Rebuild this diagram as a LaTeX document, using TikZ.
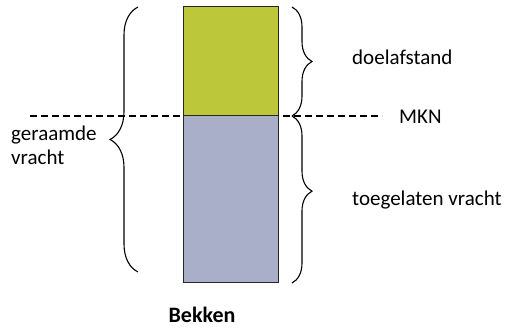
\documentclass[tikz,border=0pt]{standalone}
\usepackage{fontspec}
\setmainfont{Carlito}
\usetikzlibrary{decorations.pathreplacing}
\definecolor{topgreen}{HTML}{BCC83A}
\definecolor{botblue}{HTML}{AAAFC9}
\tikzset{
  lbl/.style={font=\fontsize{21}{24}\selectfont, inner sep=0pt, align=left},
  bracedraw/.style={draw=black, line width=1.1pt, decorate, decoration={brace, amplitude=#1}},
  dashline/.style={draw=black, line width=1.1pt, dash pattern=on 7pt off 4pt},
  boxpart/.style={draw=black!85, line width=1pt}
}
\begin{document}
\begin{tikzpicture}[x=1pt,y=-1pt]
\useasboundingbox (0,0) rectangle (507,328);
% dashed MKN line
\draw[dashline] (30,116) -- (382,116);
% box
\fill[topgreen] (183,7) rectangle (278,116);
\fill[botblue] (183,116) rectangle (278,283);
\draw[boxpart] (183,7) rectangle (278,283);
\draw[boxpart] (183,116) -- (278,116);
% braces
\draw[bracedraw=28] (138,272) -- (138,7);
\draw[bracedraw=20] (292,7) -- (292,116);
\draw[bracedraw=20, decoration={aspect=0.45}] (292,116) -- (292,283);
% labels
\node[lbl, anchor=west] (doel) at (352,57) {doelafstand};
\node[lbl, anchor=west] (mkn) at (399,117) {MKN};
\node[lbl, anchor=west] (toeg) at (352,200) {toegelaten vracht};
\node[lbl, anchor=west] (ger) at (11,145) {geraamde\\vracht};
\node[lbl, anchor=center, font=\fontsize{22}{26}\selectfont\bfseries] (bek) at (202,315) {Bekken};
\end{tikzpicture}
\end{document}
